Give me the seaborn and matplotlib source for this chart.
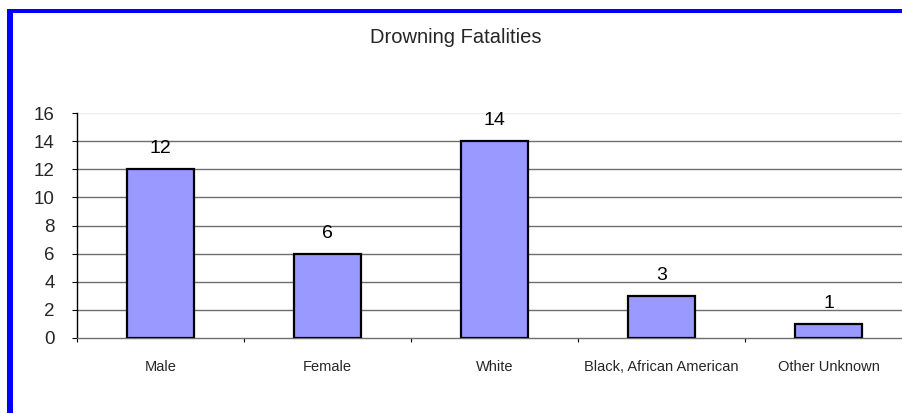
import matplotlib
matplotlib.use("Agg")
import matplotlib.pyplot as plt
import matplotlib.patches as mpatches
import seaborn as sns
import pandas as pd

categories = ["Male", "Female", "White", "Black, African American", "Other Unknown"]
fatalities = [12, 6, 14, 3, 1]
y_ticks = [0, 2, 4, 6, 8, 10, 12, 14, 16]
title = "Drowning Fatalities"

sns.set_style("white")
plt.rcParams["font.family"] = ["Liberation Sans", "DejaVu Sans"]

df = pd.DataFrame({"category": categories, "count": fatalities})

W, H = 902, 413
fig = plt.figure(figsize=(W / 100, H / 100), dpi=100)
fig.patch.set_facecolor("white")

ax = fig.add_axes([77 / W, (H - 338) / H, 835 / W, 225 / H])
sns.barplot(data=df, x="category", y="count", color="#9999FF", width=0.4,
            edgecolor="black", linewidth=1.6, saturation=1, ax=ax, zorder=3)

ax.set_xlim(-0.5, len(categories) - 0.5)
ax.set_ylim(0, 16)
ax.set_yticks(y_ticks)
ax.set_yticklabels([str(v) for v in y_ticks], fontsize=13.5)

# category boundaries get the tick marks, centers get the labels
ax.set_xticks([i - 0.5 for i in range(len(categories) + 1)])
ax.set_xticklabels([])
ax.set_xticks(range(len(categories)), minor=True)
ax.set_xticklabels(categories, minor=True, fontsize=10.5)
ax.tick_params(axis="x", which="major", direction="out", length=3, width=0.8,
               color="black", bottom=True)
ax.tick_params(axis="x", which="minor", length=0, pad=16)
ax.tick_params(axis="y", direction="out", length=3.6, width=0.8, color="black",
               left=True, pad=12.5)

for v in y_ticks[1:-1]:
    ax.axhline(v, color="#6e6e6e", linewidth=1.0, zorder=1)
ax.axhline(16, color="#eeeeee", linewidth=1.0, zorder=1)

ax.spines["left"].set_color("black")
ax.spines["left"].set_linewidth(1.0)
ax.spines["bottom"].set_color("#6e6e6e")
ax.spines["bottom"].set_linewidth(1.0)
ax.spines["top"].set_visible(False)
ax.spines["right"].set_visible(False)
ax.set_xlabel("")
ax.set_ylabel("")

for i, v in enumerate(fatalities):
    ax.annotate(str(v), (i, v), xytext=(0, 11.5), textcoords="offset points",
                ha="center", va="baseline", fontsize=14, color="black")

fig.text(456 / W, 1 - 42.7 / H, title, ha="center", va="baseline", fontsize=14.5)

# blue frame along the top and left edges
fig.add_artist(mpatches.Rectangle((7 / W, 0), 6 / W, 1 - 9 / H, color="#0000FF",
                                  linewidth=0, transform=fig.transFigure))
fig.add_artist(mpatches.Rectangle((7 / W, 1 - 13.3 / H), 1, 4.3 / H, color="#0000FF",
                                  linewidth=0, transform=fig.transFigure))

fig.savefig("out.png", dpi=100)
